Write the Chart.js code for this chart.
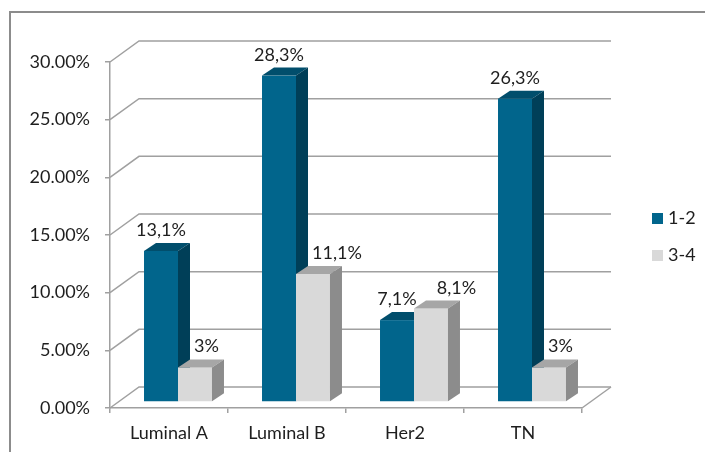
<!DOCTYPE html>
<html>
<head>
<meta charset="utf-8">
<script src="https://cdn.jsdelivr.net/npm/chart.js@4.4.0/dist/chart.umd.min.js"></script>
<style>
  html, body { margin: 0; padding: 0; background: #fff; }
</style>
</head>
<body>
<canvas id="gradeChart" width="705" height="452"></canvas>
<script>
const categories = ['Luminal A', 'Luminal B', 'Her2', 'TN'];
const seriesNames = ['1-2', '3-4'];
const grade12 = [13.1, 28.3, 7.1, 26.3];
const grade34 = [3, 11.1, 8.1, 3];
const yTicks = [0, 5, 10, 15, 20, 25, 30];

const FONT_FAMILY = 'Lato';
const FONT_SIZE = 18;
const textColor = '#1e1e1e';
const lineGray = '#a0a0a0';
const faces = [
    {front: '#01658c', top: '#014e6c', side: '#003f58'},
    {front: '#d9d9d9', top: '#a6a6a6', side: '#8c8c8c'}
];

// back wall offset, bar plane offset and bar depth (fake 3d)
const WALL_DX = 29, WALL_DY = 21;
const SHIFT_X = 9, SHIFT_Y = -6;
const BAR_DX = 12, BAR_DY = 8;

const fmtLabel = v => String(v).replace('.', ',') + '%';

const frame3d = {
    id: 'frame3d',
    beforeDraw(chart) {
        const ctx = chart.ctx;
        ctx.save();
        ctx.fillStyle = '#fff';
        ctx.fillRect(0, 0, chart.width, chart.height);
        ctx.strokeStyle = '#8c8c8c';
        ctx.lineWidth = 2;
        ctx.strokeRect(10, 12, chart.width, chart.height);
        ctx.restore();
    },
    beforeDatasetsDraw(chart) {
        const {ctx, chartArea: a, scales: {y}} = chart;
        ctx.save();

        // walls + floor
        ctx.strokeStyle = lineGray;
        ctx.lineWidth = 1.5;
        y.ticks.forEach(t => {
            const py = y.getPixelForValue(t.value);
            ctx.beginPath();
            ctx.moveTo(a.left, py);
            ctx.lineTo(a.left + WALL_DX, py - WALL_DY);
            ctx.lineTo(a.right + WALL_DX, py - WALL_DY);
            ctx.stroke();
        });
        ctx.beginPath();
        ctx.moveTo(a.right, a.bottom);
        ctx.lineTo(a.right + WALL_DX, a.bottom - WALL_DY);
        ctx.stroke();

        // bars, category by category so the right bar hides the left one's side
        const boxes = [];
        categories.forEach((c, i) => {
            boxes[i] = [];
            chart.data.datasets.forEach((ds, d) => {
                const el = chart.getDatasetMeta(d).data[i];
                const p = el.getProps(['x', 'y', 'base', 'width'], true);
                const L = p.x - p.width / 2 + SHIFT_X;
                const R = p.x + p.width / 2 + SHIFT_X;
                const T = p.y + SHIFT_Y;
                const B = p.base + SHIFT_Y;
                const f = faces[d];

                ctx.fillStyle = f.front;
                ctx.fillRect(L, T, R - L, B - T);

                ctx.fillStyle = f.top;
                ctx.beginPath();
                ctx.moveTo(L, T);
                ctx.lineTo(R, T);
                ctx.lineTo(R + BAR_DX, T - BAR_DY);
                ctx.lineTo(L + BAR_DX, T - BAR_DY);
                ctx.closePath();
                ctx.fill();

                ctx.fillStyle = f.side;
                ctx.beginPath();
                ctx.moveTo(R, T);
                ctx.lineTo(R + BAR_DX, T - BAR_DY);
                ctx.lineTo(R + BAR_DX, B - BAR_DY);
                ctx.lineTo(R, B);
                ctx.closePath();
                ctx.fill();

                boxes[i][d] = {L, R, T, value: ds.data[i]};
            });
        });

        // value labels, nudged right when they would run into the neighbour
        ctx.font = FONT_SIZE + 'px ' + FONT_FAMILY;
        ctx.fillStyle = textColor;
        ctx.textAlign = 'left';
        ctx.textBaseline = 'alphabetic';
        boxes.forEach(pair => {
            let prev = null;
            pair.forEach(b => {
                const txt = fmtLabel(b.value);
                const w = ctx.measureText(txt).width;
                const base = b.T - BAR_DY - 7;
                let left = (b.L + b.R) / 2 - w / 2;
                if (prev) {
                    if (prev.box.T - BAR_DY < base) {
                        left = Math.max(left, prev.box.R + BAR_DX + 4);
                    } else if (Math.abs(prev.base - base) < FONT_SIZE) {
                        left = Math.max(left, prev.right + 20);
                    }
                }
                ctx.fillText(txt, left, base);
                prev = {box: b, base, right: left + w};
            });
        });

        ctx.restore();
        return false;
    },
    afterDraw(chart) {
        const {ctx, chartArea: a} = chart;
        ctx.save();
        ctx.font = FONT_SIZE + 'px ' + FONT_FAMILY;
        ctx.textBaseline = 'middle';
        ctx.textAlign = 'left';
        const midY = (a.top + a.bottom) / 2 + 2;
        chart.data.datasets.forEach((ds, k) => {
            const cy = midY - 18.5 + k * 37;
            ctx.fillStyle = ds.backgroundColor;
            ctx.fillRect(a.right + 70, cy - 5.5, 11, 11);
            ctx.fillStyle = textColor;
            ctx.fillText(ds.label, a.right + 86, cy);
        });
        ctx.restore();
    }
};

const tickFont = {family: FONT_FAMILY, size: FONT_SIZE};

new Chart(document.getElementById('gradeChart'), {
    type: 'bar',
    data: {
        labels: categories,
        datasets: [
            {label: seriesNames[0], data: grade12, backgroundColor: faces[0].front, categoryPercentage: 0.576, barPercentage: 1},
            {label: seriesNames[1], data: grade34, backgroundColor: faces[1].front, categoryPercentage: 0.576, barPercentage: 1}
        ]
    },
    options: {
        responsive: false,
        animation: false,
        layout: {padding: {top: 62, right: 123, left: 0, bottom: 0}},
        plugins: {
            legend: {display: false},
            tooltip: {enabled: false}
        },
        scales: {
            x: {
                grid: {offset: true, drawOnChartArea: false, tickLength: 5, color: lineGray, lineWidth: 1.5},
                border: {color: lineGray, width: 1.5},
                ticks: {font: tickFont, color: textColor, padding: 9},
                afterFit(s) { s.height = 44; }
            },
            y: {
                min: 0,
                max: 30,
                afterBuildTicks(s) { s.ticks = yTicks.map(v => ({value: v})); },
                grid: {drawOnChartArea: false, tickLength: 5, color: lineGray, lineWidth: 1.5},
                border: {color: lineGray, width: 1.5},
                ticks: {font: tickFont, color: textColor, padding: 15, callback: v => v.toFixed(2) + '%'},
                afterFit(s) { s.width = 110; }
            }
        }
    },
    plugins: [frame3d]
});
</script>
</body>
</html>
